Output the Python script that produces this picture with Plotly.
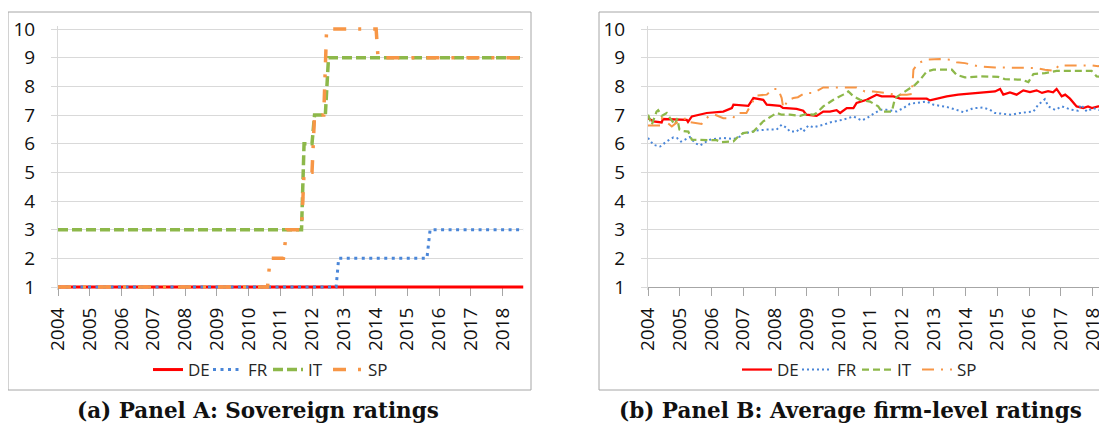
import plotly.graph_objects as go

W, H = 1107, 423
OFF = 8  # the page body margin shifts the figure by 8px

# ---- Panel A: sovereign ratings (decimal years, rating) ----
de_a_x = [2004.0, 2018.67]
de_a_y = [1, 1]
fr_a_x = [2004.0, 2012.76, 2012.84, 2015.62, 2015.72, 2018.67]
fr_a_y = [1, 1, 2, 2, 3, 3]
it_a_x = [2004.0, 2011.67, 2011.75, 2012.0, 2012.08, 2012.42, 2012.52, 2018.67]
it_a_y = [3, 3, 6, 6, 7, 7, 9, 9]
sp_a_x = [2004.0, 2010.6, 2010.68, 2011.1, 2011.2, 2011.67, 2011.75, 2012.0,
          2012.08, 2012.37, 2012.46, 2014.02, 2014.08, 2018.67]
sp_a_y = [1, 1, 2, 2, 3, 3, 5, 5, 7, 7, 10, 10, 9, 9]

# ---- Panel B: average firm-level ratings ----
de_b_x = [2004.0, 2004.17, 2004.43, 2004.47, 2005.22, 2005.26, 2005.38, 2005.85,
          2006.37, 2006.64, 2006.69, 2007.16, 2007.32, 2007.63, 2007.74, 2008.16,
          2008.25, 2008.68, 2008.89, 2008.99, 2009.31, 2009.52, 2009.73, 2009.94,
          2010.05, 2010.26, 2010.47, 2010.57, 2010.89, 2011.2, 2011.36, 2011.73,
          2011.94, 2012.78, 2012.88, 2013.09, 2013.41, 2013.77, 2014.4, 2014.93,
          2015.09, 2015.19, 2015.4, 2015.61, 2015.82, 2016.03, 2016.24, 2016.41,
          2016.6, 2016.76, 2016.87, 2017.03, 2017.14, 2017.29, 2017.5, 2017.71,
          2017.86, 2017.98, 2018.18, 2018.67]
de_b_y = [6.89, 6.78, 6.74, 6.86, 6.83, 6.76, 6.95, 7.07,
          7.12, 7.24, 7.36, 7.32, 7.59, 7.53, 7.36, 7.32,
          7.25, 7.21, 7.15, 7.01, 6.97, 7.12, 7.12, 7.17,
          7.07, 7.24, 7.24, 7.42, 7.53, 7.71, 7.65, 7.65,
          7.57, 7.57, 7.51, 7.57, 7.65, 7.71, 7.77, 7.82,
          7.91, 7.71, 7.79, 7.71, 7.86, 7.8, 7.86, 7.77,
          7.83, 7.79, 7.91, 7.65, 7.71, 7.57, 7.3, 7.24,
          7.3, 7.24, 7.3, 7.3]

fr_b_x = [2004.0, 2004.17, 2004.38, 2004.59, 2004.8, 2004.91, 2005.04, 2005.32,
          2005.48, 2005.64, 2005.85, 2005.95, 2006.37, 2006.69, 2006.9, 2007.0,
          2007.21, 2007.42, 2007.74, 2008.05, 2008.21, 2008.37, 2008.47, 2008.68,
          2008.79, 2008.89, 2009.05, 2009.21, 2009.52, 2009.73, 2010.15, 2010.47,
          2010.73, 2010.89, 2011.1, 2011.31, 2011.52, 2011.83, 2012.04, 2012.25,
          2012.57, 2012.78, 2012.99, 2013.2, 2013.41, 2013.72, 2013.93, 2014.25,
          2014.56, 2014.77, 2014.93, 2015.46, 2015.72, 2016.14, 2016.29, 2016.45,
          2016.5, 2016.61, 2016.82, 2017.04, 2017.34, 2017.54, 2017.64, 2017.82,
          2018.02, 2018.2, 2018.39, 2018.67]
fr_b_y = [6.2, 5.96, 5.9, 6.08, 6.22, 6.2, 6.07, 6.23,
          6.02, 5.94, 6.08, 6.14, 6.2, 6.16, 6.25, 6.37,
          6.39, 6.46, 6.49, 6.49, 6.66, 6.55, 6.42, 6.42,
          6.55, 6.42, 6.63, 6.57, 6.66, 6.74, 6.84, 6.95,
          6.81, 6.89, 7.04, 7.18, 7.18, 7.12, 7.24, 7.39,
          7.44, 7.47, 7.36, 7.32, 7.28, 7.18, 7.1, 7.24,
          7.26, 7.18, 7.07, 7.01, 7.07, 7.12, 7.36, 7.5,
          7.55, 7.3, 7.18, 7.3, 7.18, 7.15, 7.36, 7.12,
          7.24, 7.18, 7.24, 7.22]

it_b_x = [2004.0, 2004.12, 2004.27, 2004.32, 2004.43, 2004.59, 2004.69, 2004.85,
          2004.92, 2004.99, 2005.06, 2005.27, 2005.38, 2005.64, 2006.16, 2006.32,
          2006.69, 2006.84, 2007.0, 2007.32, 2007.63, 2007.79, 2007.95, 2008.05,
          2008.21, 2008.47, 2008.79, 2009.0, 2009.21, 2009.31, 2009.52, 2009.84,
          2010.15, 2010.31, 2010.47, 2010.68, 2010.99, 2011.25, 2011.36, 2011.68,
          2011.78, 2012.04, 2012.25, 2012.41, 2012.57, 2012.67, 2012.78, 2012.99,
          2013.57, 2013.72, 2013.98, 2014.46, 2015.03, 2015.24, 2015.77, 2015.98,
          2016.14, 2016.5, 2016.87, 2017.97, 2018.13, 2018.67]
it_b_y = [7.01, 6.66, 7.12, 7.17, 6.97, 7.07, 6.9, 6.66,
          6.89, 6.49, 6.45, 6.42, 6.14, 6.14, 6.12, 6.05,
          6.08, 6.25, 6.37, 6.42, 6.78, 6.89, 7.01, 7.07,
          7.01, 7.01, 6.97, 7.04, 7.01, 7.07, 7.3, 7.53,
          7.71, 7.82, 7.65, 7.53, 7.47, 7.3, 7.12, 7.12,
          7.59, 7.77, 7.94, 8.05, 8.23, 8.35, 8.52, 8.58,
          8.58, 8.4, 8.31, 8.35, 8.33, 8.25, 8.23, 8.15,
          8.43, 8.46, 8.54, 8.54, 8.35, 8.29]

sp_b_x = [2004.0, 2004.38, 2004.44, 2004.75, 2005.01, 2005.22, 2005.32, 2005.69,
          2005.9, 2006.11, 2006.37, 2006.68, 2006.79, 2007.1, 2007.27, 2007.42,
          2007.74, 2007.95, 2008.1, 2008.21, 2008.26, 2008.42, 2008.58, 2008.72,
          2008.94, 2009.2, 2009.52, 2009.94, 2010.57, 2010.83, 2011.1, 2011.46,
          2011.78, 2012.15, 2012.31, 2012.36, 2012.51, 2012.78, 2013.2, 2013.51,
          2013.72, 2013.98, 2014.4, 2014.93, 2015.46, 2016.19, 2016.5, 2016.82,
          2016.93, 2017.35, 2017.97, 2018.18, 2018.39, 2018.67]
sp_b_y = [6.63, 6.63, 6.89, 6.6, 6.83, 6.89, 6.75, 6.69,
          6.95, 7.01, 6.89, 6.89, 7.07, 7.07, 7.42, 7.68,
          7.71, 7.91, 7.91, 7.59, 7.24, 7.53, 7.59, 7.62,
          7.77, 7.77, 7.96, 7.96, 7.96, 7.82, 7.82, 7.77,
          7.71, 7.71, 7.73, 8.58, 8.81, 8.93, 8.95, 8.93,
          8.84, 8.81, 8.7, 8.66, 8.66, 8.64, 8.58, 8.54,
          8.73, 8.73, 8.73, 8.7, 8.76, 8.76]

year_ticks = list(range(2004, 2019))
countries = ['DE', 'FR', 'IT', 'SP']
colors = ['#FF0000', '#4A86D8', '#8DB84A', '#F79646']


def px_x(p):
    return (p - OFF) / W


def px_y(p):
    return 1 - (p - OFF) / H


# plot area geometry in screen pixels (value 1 -> 287px, value 10 -> 29px)
unit = (287 - 29) / 9.0
y_lo, y_hi = 0.9, 10.1
ydom = [px_y(287 + (1 - y_lo) * unit), px_y(29 - (y_hi - 10) * unit)]
yr_px = 31.75  # pixels per year

TICKFONT = dict(family='Open Sans', size=19, color='#111111')
GRID = '#D9D9D9'

fig = go.Figure()

styles_a = [dict(width=3, dash='solid'),
            dict(width=3, dash='3px,4.5px'),
            dict(width=3.5, dash='10px,4px'),
            dict(width=3.5, dash='13px,12px,3px,12px')]
styles_b = [dict(width=2.25, dash='solid'),
            dict(width=2, dash='2px,3px'),
            dict(width=2.25, dash='7px,4px'),
            dict(width=2, dash='12px,7px,2px,7px')]

panel_a = [(de_a_x, de_a_y), (fr_a_x, fr_a_y), (it_a_x, it_a_y), (sp_a_x, sp_a_y)]
panel_b = [(de_b_x, de_b_y), (fr_b_x, fr_b_y), (it_b_x, it_b_y), (sp_b_x, sp_b_y)]

for name, col, st, (xs, ys) in zip(countries, colors, styles_a, panel_a):
    fig.add_trace(go.Scatter(x=xs, y=ys, mode='lines', name=name,
                             line=dict(color=col, **st),
                             xaxis='x', yaxis='y', legend='legend'))

for name, col, st, (xs, ys) in zip(countries, colors, styles_b, panel_b):
    fig.add_trace(go.Scatter(x=xs, y=ys, mode='lines', name=name,
                             line=dict(color=col, **st),
                             xaxis='x2', yaxis='y2', legend='legend2'))


def xaxis_dict(dom, rng):
    return dict(domain=dom, range=rng, anchor='free', position=px_y(287),
                showline=True, linecolor='#A6A6A6', linewidth=1,
                ticks='outside', ticklen=8, tickcolor='#A6A6A6',
                tickmode='array', tickvals=year_ticks,
                ticktext=[str(y) for y in year_ticks],
                tickangle=-90, tickfont=TICKFONT, ticklabelstandoff=4,
                showgrid=False, zeroline=False, layer='below traces',
                automargin=False)


def cross_dict(over, rng):
    # second axis on the same line gives Excel-style crossing tick marks
    return dict(overlaying=over, range=rng, anchor='free', position=px_y(287),
                showline=False, ticks='inside', ticklen=7, tickcolor='#A6A6A6',
                tickmode='array', tickvals=year_ticks, showticklabels=False,
                showgrid=False, zeroline=False, layer='below traces',
                automargin=False)


def yaxis_dict(anchor):
    return dict(domain=ydom, range=[y_lo, y_hi], anchor=anchor,
                tickmode='array', tickvals=list(range(1, 11)),
                showgrid=True, gridcolor=GRID, gridwidth=1,
                showline=True, linecolor=GRID, ticks='outside', ticklen=6,
                tickcolor=GRID, tickfont=TICKFONT, ticklabelstandoff=12,
                zeroline=False, layer='below traces', automargin=False)


rng_a = [2004, 2004 + (523.3 - 58) / yr_px]
rng_b = [2004, 2004 + (W + OFF - 648) / yr_px]

legend_common = dict(orientation='h', xanchor='center', yanchor='middle',
                     font=dict(family='Open Sans', size=17, color='#262626'),
                     bgcolor='rgba(0,0,0,0)', entrywidth=15, itemwidth=30,
                     tracegroupgap=0)

CAPFONT = dict(family='DejaVu Serif', size=21.5, color='#111111')

fig.update_layout(
    width=W, height=H,
    margin=dict(l=0, r=0, t=0, b=0),
    paper_bgcolor='white', plot_bgcolor='white',
    showlegend=True,
    xaxis=xaxis_dict([px_x(58), px_x(523.3)], rng_a),
    xaxis2=xaxis_dict([px_x(648), 1.0], rng_b),
    xaxis3=cross_dict('x', rng_a),
    xaxis4=cross_dict('x2', rng_b),
    yaxis=yaxis_dict('x'),
    yaxis2=yaxis_dict('x2'),
    legend=dict(x=px_x(268), y=px_y(370), **legend_common),
    legend2=dict(x=px_x(857), y=px_y(370), **legend_common),
    shapes=[
        dict(type='rect', xref='paper', yref='paper',
             x0=px_x(8), x1=px_x(531), y0=px_y(390), y1=px_y(12),
             line=dict(color='#A6A6A6', width=1), layer='below'),
        dict(type='rect', xref='paper', yref='paper',
             x0=px_x(599), x1=px_x(1140), y0=px_y(390), y1=px_y(12),
             line=dict(color='#A6A6A6', width=1), layer='below'),
    ],
    annotations=[
        dict(text='<b>(a) Panel A: Sovereign ratings</b>', xref='paper', yref='paper',
             x=px_x(258), y=px_y(410), xanchor='center', yanchor='middle',
             showarrow=False, font=CAPFONT),
        dict(text='<b>(b) Panel B: Average firm-level ratings</b>', xref='paper',
             yref='paper', x=px_x(850), y=px_y(410), xanchor='center',
             yanchor='middle', showarrow=False, font=CAPFONT),
    ],
)

fig.write_html("out.html")
